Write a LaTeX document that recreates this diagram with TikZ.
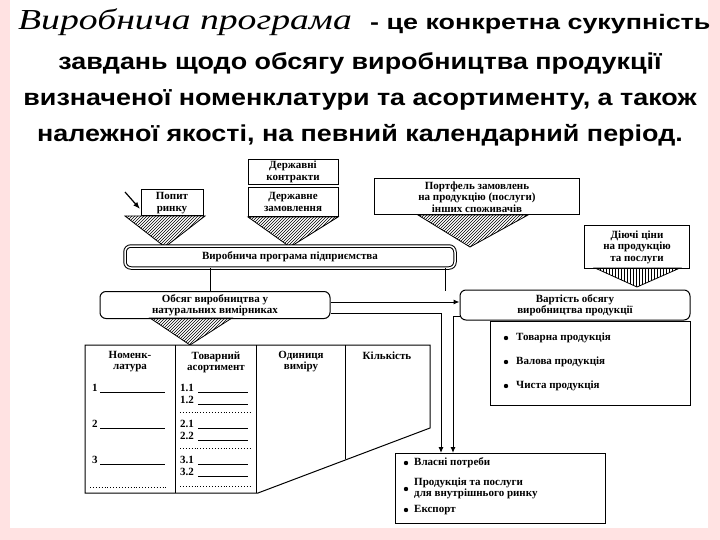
\documentclass[tikz,border=0pt]{standalone}
\usepackage{fontspec}
\setmainfont{Liberation Serif}
\newfontfamily\sans{Liberation Sans}
\usetikzlibrary{patterns,arrows.meta}
\begin{document}
\begin{tikzpicture}[x=1pt,y=-1pt,
  box/.style={draw,line width=1pt,fill=white,align=center,font=\bfseries\fontsize{11}{11.5}\selectfont,inner sep=1pt},
  rbox/.style={box,rounded corners=6pt},
  tri/.style={draw,line width=0.8pt,pattern=north east lines},
  ln/.style={line width=1pt},
  arr/.style={ln,-{Latex[length=6pt,width=5pt]}},
  lt/.style={font=\bfseries\fontsize{11}{12}\selectfont,anchor=west,inner sep=0pt}]
\useasboundingbox (0,0) rectangle (720,540);
\fill[pink!45] (0,0) rectangle (720,540);
\fill[white] (10,0) rectangle (708,528);
\fill[white] (52,152) rectangle (700,525);
% title
\node[anchor=base west,inner sep=0pt,font=\fontsize{29}{30}\itshape\selectfont] (t1) at (18,30) {\scalebox{1.3}[1]{Виробнича програма}};
\node[anchor=base west,inner sep=0pt,font=\sans\bfseries\fontsize{21}{22}\selectfont] (t2) at (370,30) {\scalebox{1.28}[1]{- це конкретна сукупність}};
\node[align=center,inner sep=0pt,font=\sans\bfseries\fontsize{23}{36}\selectfont] (t3) at (360,99) {\scalebox{1.17}[1]{завдань щодо обсягу виробництва продукції}\\\scalebox{1.17}[1]{визначеної номенклатури та асортименту, а також}\\\scalebox{1.17}[1]{належної якості, на певний календарний період.}};
% top sources
\draw[tri] (125,216) -- (205,216) -- (165,247) -- cycle;
\node[box,minimum width=62pt,minimum height=26pt] (popyt) at (172,203) {Попит\\ринку};
\draw[-{Latex[length=7pt]},line width=1.2pt] (125,192) -- (140,209);
\node[box,minimum width=90pt,minimum height=25pt] (dk) at (293,172) {Державні\\контракти};
\node[box,minimum width=90pt,minimum height=29pt] (dz) at (293,202) {Державне\\замовлення};
\draw[tri] (248,217) -- (338,217) -- (290,247) -- cycle;
\node[box,minimum width=205pt,minimum height=36pt] (port) at (477,197) {Портфель замовлень\\на продукцію (послуги)\\інших споживачів};
\draw[tri] (418,215) -- (528,215) -- (470,247) -- cycle;
\node[box,minimum width=105pt,minimum height=42pt] (ciny) at (637,247) {Діючі ціни\\на продукцію\\та послуги};
\draw[tri,pattern=vertical lines] (595,268) -- (680,268) -- (637,287) -- cycle;
% main bar
\node[rbox,double,double distance=1.5pt,minimum width=330pt,minimum height=22pt] (vp) at (290,257) {Виробнича програма підприємства};
\node[rbox,minimum width=230pt,minimum height=27pt] (obs) at (215,305) {Обсяг виробництва у\\натуральних вимірниках};
\node[rbox,minimum width=230pt,minimum height=30pt] (vart) at (575,305) {Вартість обсягу\\виробництва продукції};
\draw[ln] (210,268) -- (210,291.5);
\draw[ln] (445,268) -- (445,290.5);
\draw[arr] (obs.east |- 0,302) -- (vart.west |- 0,302);
% product list
\node[draw,line width=1pt,minimum width=200pt,minimum height=84pt,inner sep=0pt] (prod) at (590,363) {};
\foreach \y/\t in {338/Товарна продукція,362/Валова продукція,386/Чиста продукція}{
 \fill (506,\y) circle (2.2pt);
 \node[lt] at (516,\y) {\t};}
% triangle and table
\draw[tri] (150,318) -- (232,318) -- (190,345) -- cycle;
\draw[ln,fill=white] (85,345) -- (430,345) -- (430,428) -- (258,493) -- (85,493) -- cycle;
\draw[ln] (175,345) -- (175,493);
\draw[ln] (256,345) -- (256,493);
\draw[ln] (345,345) -- (345,459);
\node[align=center,font=\bfseries\fontsize{11}{11}\selectfont] (h1) at (130,362) {Номенк-\\латура};
\node[align=center,font=\bfseries\fontsize{11}{11}\selectfont] (h2) at (216,362) {Товарний\\асортимент};
\node[align=center,font=\bfseries\fontsize{11}{11}\selectfont] (h3) at (301,362) {Одиниця\\виміру};
\node[font=\bfseries\fontsize{11}{11}\selectfont] (h4) at (387,356) {Кількість};
\foreach \y/\t in {388/1,424/2,460/3}{
 \node[lt] at (92,\y) {\t};
 \draw (100,\y+4) -- (165,\y+4);}
\foreach \y/\t in {388/1.1,400/1.2,424/2.1,436/2.2,460/3.1,472/3.2}{
 \node[lt] at (180,\y) {\t};
 \draw (198,\y+4) -- (248,\y+4);}
\foreach \y in {412,448,486}{\draw[dotted,line width=0.9pt] (180,\y) -- (250,\y);}
\draw[dotted,line width=0.9pt] (90,487) -- (168,487);
% bottom box
\node[draw,line width=1pt,minimum width=210pt,minimum height=70pt,inner sep=0pt] (use) at (500,488) {};
\foreach \y/\t in {463/Власні потреби,510/Експорт}{
 \fill (406,\y) circle (2.2pt);
 \node[lt] at (414,\y) {\t};}
\fill (406,489) circle (2.2pt);
\node[lt,align=left,font=\bfseries\fontsize{11}{9.5}\selectfont] at (414,488) {Продукція та послуги\\для внутрішнього ринку};
\draw[arr] (obs.east |- 0,313) -- (441,313) -- (441,453);
\draw[arr] (vart.west |- 0,316) -- (453,316) -- (453,453);
\end{tikzpicture}
\end{document}
